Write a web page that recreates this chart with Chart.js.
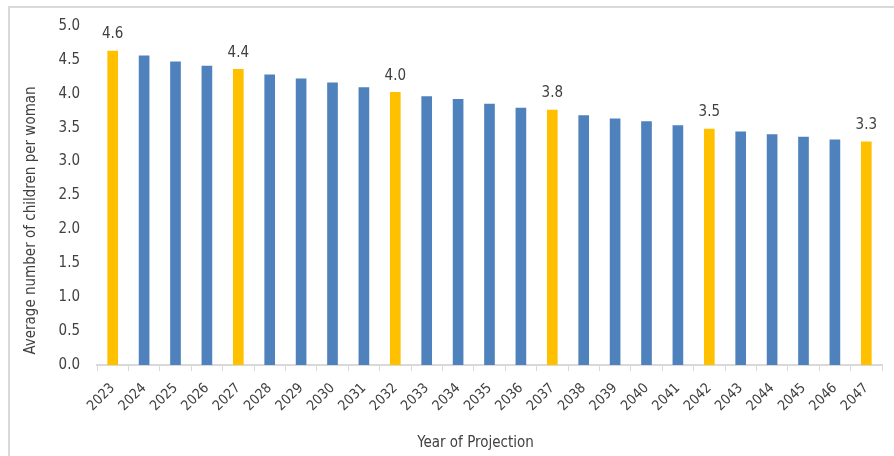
<!DOCTYPE html>
<html>
<head>
<meta charset="utf-8">
<script src="https://cdn.jsdelivr.net/npm/chart.js@4"></script>
<style>
  html, body { margin: 0; padding: 0; background: #fff; }
  .wrap { position: relative; width: 894px; height: 456px; }
  .frame { position: absolute; left: 8px; top: 6px; right: -4px; bottom: -4px; border-top: 2px solid #d9d9d9; border-left: 2px solid #d9d9d9; }
  canvas { position: absolute; left: 0; top: 0; }
</style>
</head>
<body>
<div class="wrap">
  <div class="frame"></div>
  <canvas id="fertilityChart" width="894" height="456"></canvas>
</div>
<script>
  // Data - projected total fertility rate
  const years = ['2023', '2024', '2025', '2026', '2027', '2028', '2029', '2030', '2031', '2032', '2033', '2034', '2035',
    '2036', '2037', '2038', '2039', '2040', '2041', '2042', '2043', '2044', '2045', '2046', '2047'];
  const childrenPerWoman = [4.63, 4.56, 4.47, 4.41, 4.36, 4.28, 4.22, 4.16, 4.09, 4.02, 3.96, 3.92, 3.85,
    3.79, 3.76, 3.68, 3.63, 3.59, 3.53, 3.48, 3.44, 3.40, 3.36, 3.32, 3.29];
  const labelledYears = ['2023', '2027', '2032', '2037', '2042', '2047'];
  const yTicks = [0, 0.5, 1, 1.5, 2, 2.5, 3, 3.5, 4, 4.5, 5];
  const yTitle = 'Average number of children per woman';
  const xTitle = 'Year of Projection';

  const colors = { regular: '#4f81bd', highlight: '#ffc000', text: '#404040', axis: '#d9d9d9' };
  const fontFamily = "'DejaVu Sans Condensed', 'Liberation Sans', Arial, sans-serif";

  // value labels over the highlighted bars + axis titles (Excel places them a bit off-centre)
  const annotations = {
    id: 'annotations',
    afterDatasetsDraw(chart) {
      const ctx = chart.ctx;
      const meta = chart.getDatasetMeta(0);
      const area = chart.chartArea;
      ctx.save();
      ctx.fillStyle = colors.text;
      ctx.textAlign = 'center';
      ctx.font = '15px ' + fontFamily;
      ctx.textBaseline = 'bottom';
      meta.data.forEach((bar, i) => {
        if (!labelledYears.includes(years[i])) return;
        ctx.fillText(childrenPerWoman[i].toFixed(1), bar.x, bar.y - 9);
      });

      ctx.textBaseline = 'middle';
      ctx.fillText(xTitle, (area.left + area.right) / 2 - 14, 443);
      ctx.translate(31, (area.top + area.bottom) / 2 + 25);
      ctx.rotate(-Math.PI / 2);
      ctx.fillText(yTitle, 0, 0);
      ctx.restore();
    }
  };

  const ctx = document.getElementById('fertilityChart').getContext('2d');
  new Chart(ctx, {
    type: 'bar',
    data: {
      labels: years,
      datasets: [{
        data: childrenPerWoman,
        backgroundColor: years.map(y => labelledYears.includes(y) ? colors.highlight : colors.regular),
        borderWidth: 0,
        barThickness: 10
      }]
    },
    options: {
      responsive: false,
      animation: false,
      layout: { padding: { left: 0, top: 26, right: 12, bottom: 0 } },
      plugins: { legend: { display: false }, tooltip: { enabled: false } },
      scales: {
        y: {
          min: 0,
          max: 5,
          afterBuildTicks: (scale) => { scale.ticks = yTicks.map(v => ({ value: v })); },
          afterFit: (scale) => { scale.width = 97; },
          grid: { display: false, drawTicks: false },
          border: { display: false },
          ticks: {
            padding: 17,
            color: colors.text,
            font: { family: fontFamily, size: 15 },
            callback: (v) => Number(v).toFixed(1)
          }
        },
        x: {
          afterFit: (scale) => { scale.height = 91; },
          grid: { display: true, drawOnChartArea: false, drawTicks: true, tickLength: 6, color: colors.axis, offset: true },
          border: { display: true, color: colors.axis, width: 2 },
          ticks: {
            minRotation: 45,
            maxRotation: 45,
            padding: 9,
            color: colors.text,
            font: { family: fontFamily, size: 14 }
          }
        }
      }
    },
    plugins: [annotations]
  });
</script>
</body>
</html>
